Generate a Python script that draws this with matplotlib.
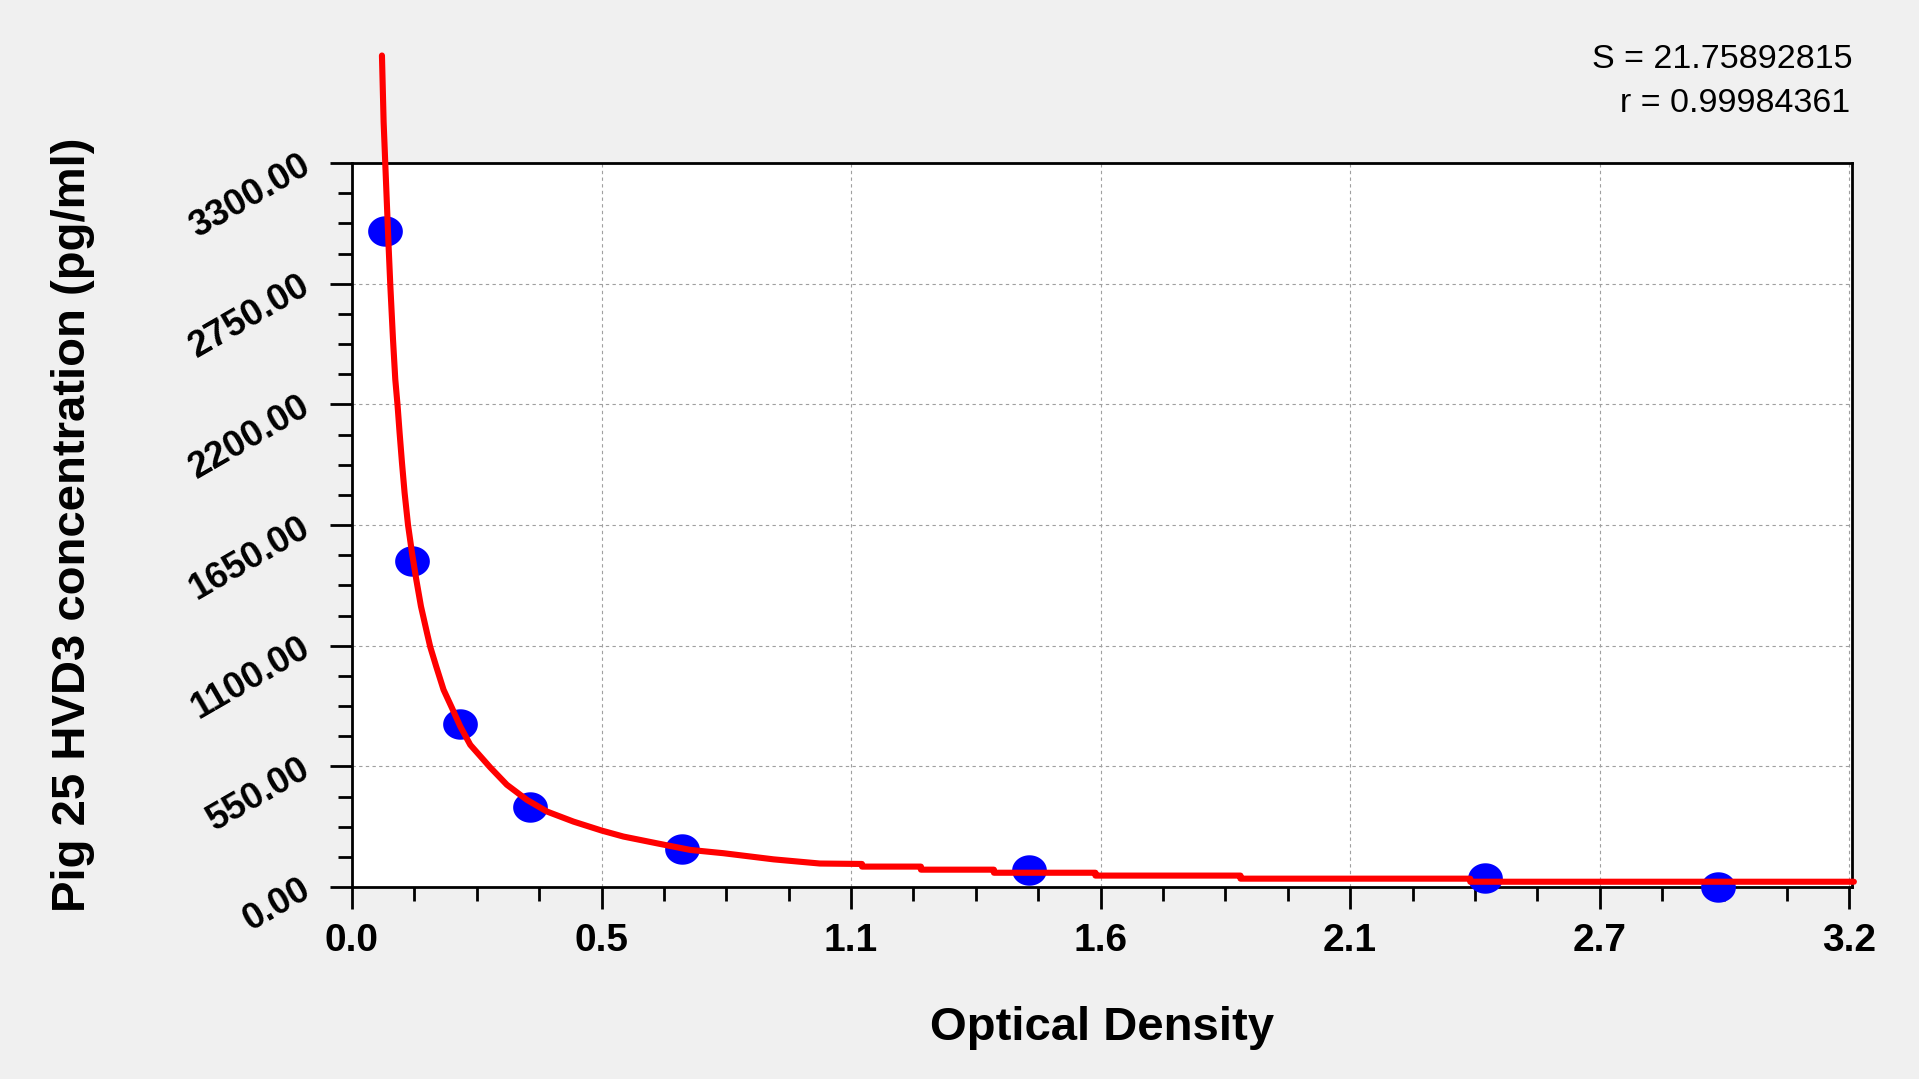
import numpy as np
import matplotlib
matplotlib.use('Agg')
import matplotlib.pyplot as plt
from matplotlib.path import Path
from matplotlib.ticker import MultipleLocator, FixedLocator

plt.rcParams['font.family'] = ['Liberation Sans', 'DejaVu Sans']

# standards (optical density vs concentration)
od = [0.071, 0.129, 0.230, 0.381, 0.706, 1.448, 2.422, 2.919]
conc = [2991, 1486, 742, 364, 175, 78, 40, 0]

# fitted curve
curve_od = [0.064, 0.0676, 0.0733, 0.0782, 0.0818, 0.0876, 0.0925, 0.0975, 0.1017,
            0.1068, 0.1124, 0.1197, 0.1282, 0.1374, 0.1474, 0.1603, 0.1673, 0.180,
            0.1957, 0.2137, 0.2314, 0.2528, 0.2955, 0.331, 0.374, 0.4167, 0.4735,
            0.534, 0.580, 0.652, 0.723, 0.794, 0.901, 1.0, 1.09, 1.09, 1.216,
            1.216, 1.372, 1.372, 1.589, 1.589, 1.899, 1.899, 2.39, 2.39, 3.21]
curve_conc = [3790, 3486, 3181, 2922, 2746, 2497, 2314, 2192, 2071,
              1934, 1797, 1651, 1523, 1401, 1279, 1158, 1094, 1005,
              899, 816, 732, 648, 545, 466, 397, 344, 298,
              257, 230, 199, 169, 154, 126, 107, 105, 93, 93,
              79, 79, 65, 65, 52, 52, 38, 38, 24, 24]

x_ticks = [0.0, 3.2 / 6, 2 * 3.2 / 6, 3 * 3.2 / 6, 4 * 3.2 / 6, 5 * 3.2 / 6, 3.2]
x_labels = ['0.0', '0.5', '1.1', '1.6', '2.1', '2.7', '3.2']
y_ticks = [0, 550, 1100, 1650, 2200, 2750, 3300]
y_labels = ['0.00', '550.00', '1100.00', '1650.00', '2200.00', '2750.00', '3300.00']

stats = ['S = 21.75892815', 'r = 0.99984361']

fig = plt.figure(figsize=(19.19, 10.79), dpi=100, facecolor='#f0f0f0')
ax = fig.add_axes([352 / 1919, 1 - 887 / 1079, 1500 / 1919, 724 / 1079])
ax.set_facecolor('white')

# slightly wide ellipse marker
t = np.linspace(0, 2 * np.pi, 60)
ell = Path(np.column_stack([1.14 * np.cos(t), np.sin(t)]), closed=True)

ax.plot(od, conc, linestyle='none', marker=ell, markersize=25, color='#0000ff',
        markeredgewidth=0, zorder=3, clip_on=False)
ax.plot(curve_od, curve_conc, color='#ff0000', linewidth=4.4, zorder=4,
        clip_on=False, solid_capstyle='round', solid_joinstyle='round')

ax.set_xlim(0, 3.206)
ax.set_ylim(0, 3300)
ax.xaxis.set_major_locator(FixedLocator(x_ticks))
ax.xaxis.set_minor_locator(MultipleLocator(3.2 / 24))
ax.yaxis.set_major_locator(FixedLocator(y_ticks))
ax.yaxis.set_minor_locator(MultipleLocator(137.5))
ax.set_xticklabels(x_labels, fontsize=28, fontweight='bold')
ax.set_yticklabels(y_labels, fontsize=26.5, fontweight='bold')
plt.setp(ax.get_yticklabels(), rotation=30, rotation_mode='anchor',
         ha='right', va='center')

ax.tick_params(which='major', length=16, width=2, direction='out', color='black')
ax.tick_params(which='minor', length=10, width=2, direction='out', color='black')
ax.tick_params(axis='x', which='major', pad=10)
ax.tick_params(axis='y', which='major', pad=16)
ax.tick_params(top=False, right=False, which='both')

for s in ax.spines.values():
    s.set_linewidth(2)
    s.set_color('black')

ax.grid(True, which='major', color='#a0a0a0', linestyle=(0, (3, 3)), linewidth=0.8)
ax.set_axisbelow(True)

ax.set_xlabel('Optical Density', fontsize=34, fontweight='bold')
ax.set_ylabel('Pig 25 HVD3 concentration (pg/ml)', fontsize=34, fontweight='bold')
ax.xaxis.set_label_coords(0.5, -0.164)
ax.yaxis.set_label_coords(-0.171, 0.5)

fig.text(1853 / 1919, 1 - 68 / 1079, stats[0], fontsize=24.5, ha='right',
         va='baseline')
fig.text(1850 / 1919, 1 - 112 / 1079, stats[1], fontsize=24.5, ha='right',
         va='baseline')

fig.savefig('out.png', dpi=100, facecolor=fig.get_facecolor())
